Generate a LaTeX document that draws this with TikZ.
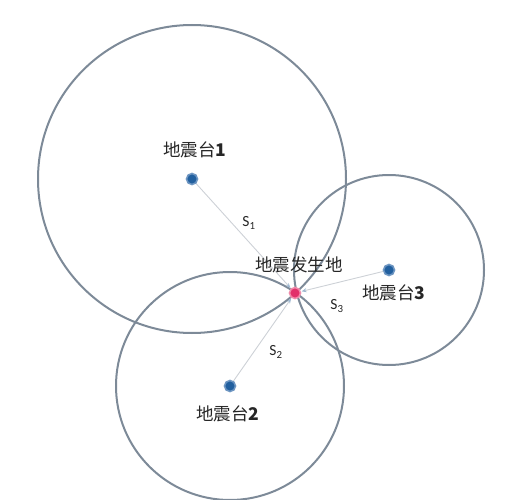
\documentclass[tikz,border=0pt]{standalone}
\usepackage{fontspec}
\setmainfont{Carlito}
\newfontfamily\cjk{Noto Sans CJK SC}
\usetikzlibrary{arrows.meta}
\usetikzlibrary{backgrounds}
\definecolor{quanse}{HTML}{7D8A98}
\definecolor{lanse}{HTML}{22609F}
\definecolor{lanhuan}{HTML}{6E96C2}
\definecolor{hongse}{HTML}{E2306A}
\definecolor{honghuan}{HTML}{F08AAA}
\definecolor{xianse}{HTML}{CDD1D6}
\definecolor{jianse}{HTML}{9FB8D0}
\definecolor{zise}{HTML}{262626}
\tikzset{
  zhan/.style={circle,fill=lanse,draw=lanhuan,line width=1.6pt,minimum size=11pt,inner sep=0pt},
  zhongxin/.style={circle,fill=hongse,draw=honghuan,line width=1.6pt,minimum size=11pt,inner sep=0pt},
  quan/.style={draw=quanse,line width=2pt},
  sline/.style={draw=xianse,line width=0.9pt,-{Stealth[length=5pt,width=4pt,color=jianse]},shorten >=0.5pt},
  biao/.style={text=zise,font=\fontsize{17.5}{19}\selectfont,inner sep=0pt},
  sbiao/.style={text=zise,font=\fontsize{15.5}{17}\selectfont,inner sep=0pt}
}
\begin{document}
\begin{tikzpicture}[x=1pt,y=-1pt]
            \useasboundingbox (0,0) rectangle (527,500);
            \node[zhan] (tai1) at (192,179){};
            \node[zhan] (tai2) at (230,386){};
            \node[zhan] (tai3) at (389,270){};
            \node[zhongxin] (zhong) at (295,293){};

            \begin{pgfonlayer}{background}
            \draw[quan] (tai1.center) circle[radius=154pt];
            \draw[quan] (tai2.center) circle[radius=114pt];
            \draw[quan] (tai3.center) circle[radius=95pt];
            \draw[sline] (tai1) -- (zhong);
            \draw[sline] (tai2) -- (zhong);
            \draw[sline] (tai3) -- (zhong);
            \end{pgfonlayer}

            \node[biao] (ming1) at (195,150){\cjk 地震台\textbf{1}};
            \node[biao] (ming2) at (228,414){\cjk 地震台\textbf{2}};
            \node[biao] (ming3) at (394,293){\cjk 地震台\textbf{3}};
            \node[biao] (mingz) at (299,265){\cjk 地震发生地};

            \node[sbiao] (s1) at (249,223){S\textsubscript{1}};
            \node[sbiao] (s2) at (276,352){S\textsubscript{2}};
            \node[sbiao] (s3) at (337,306){S\textsubscript{3}};
        \end{tikzpicture}
\end{document}
